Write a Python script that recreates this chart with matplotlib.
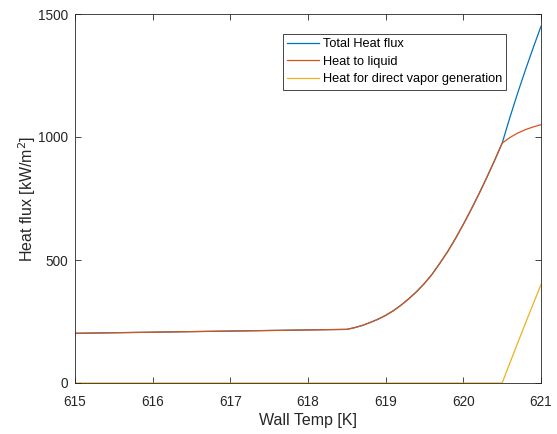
import matplotlib
matplotlib.use("Agg")
import matplotlib.pyplot as plt

# Data
temp_low = [615.0, 618.5, 618.6, 618.7, 618.8, 618.9, 619.0, 619.1, 619.2, 619.3,
            619.4, 619.5, 619.6, 619.7, 619.8, 619.9, 620.0, 620.1, 620.2, 620.3,
            620.4, 620.5]
liquid_low = [202, 218, 225, 234, 246, 259, 275, 294, 317, 343,
              372, 405, 443, 488, 535, 588, 645, 705, 768, 834,
              903, 975]

temp_high = [620.5, 620.6, 620.7, 620.8, 620.9, 621.0]
liquid_high = [975, 998, 1016, 1030, 1041, 1050]
vapor_high = [0, 82, 163, 243, 322, 400]
total_high = [975, 1080, 1179, 1273, 1363, 1450]

temp_zero = [615.0, 620.5]
vapor_zero = [0, 0]

xticks = [615, 616, 617, 618, 619, 620, 621]
yticks = [0, 500, 1000, 1500]

c_blue = "#0072BD"
c_red = "#D95319"
c_yel = "#EDB120"
axc = "#262626"

plt.rcParams['font.family'] = ['Liberation Sans', 'DejaVu Sans']

fig = plt.figure(figsize=(5.57, 4.34), dpi=100)
ax = fig.add_axes([75/557, 51/434, 466/557, 369/434])

lw = 0.9
total_t = temp_low + temp_high[1:]
total_v = liquid_low + total_high[1:]
liq_t = temp_low + temp_high[1:]
liq_v = liquid_low + liquid_high[1:]
vap_t = temp_zero + temp_high[1:]
vap_v = vapor_zero + vapor_high[1:]

ax.plot(total_t, total_v, color=c_blue, lw=lw, label="Total Heat flux")
ax.plot(liq_t, liq_v, color=c_red, lw=lw, label="Heat to liquid")
ax.plot(vap_t, vap_v, color=c_yel, lw=lw, label="Heat for direct vapor generation")

ax.set_xlim(615, 621)
ax.set_ylim(0, 1500)
ax.set_xticks(xticks)
ax.set_yticks(yticks)
ax.tick_params(direction='in', length=4, width=0.6, colors=axc, labelsize=9.8,
               top=True, right=True)
ax.tick_params(axis='x', pad=8.5)
ax.tick_params(axis='y', pad=5)
for s in ax.spines.values():
    s.set_color(axc)
    s.set_linewidth(0.6)

ax.set_xlabel("Wall Temp [K]", fontsize=11.5, color=axc, labelpad=3)
ax.set_ylabel("Heat flux [kW/m$^2$]", fontsize=11.5, color=axc, labelpad=0)

leg = ax.legend(loc='upper left', bbox_to_anchor=((283-75)/466, (383-34)/369),
                fontsize=9.2, fancybox=False, framealpha=1, edgecolor=axc,
                handlelength=2.5, handletextpad=0.25, labelspacing=0.42,
                borderpad=0.35, borderaxespad=0)
leg.get_frame().set_linewidth(0.6)

fig.savefig("out.png", dpi=100)
